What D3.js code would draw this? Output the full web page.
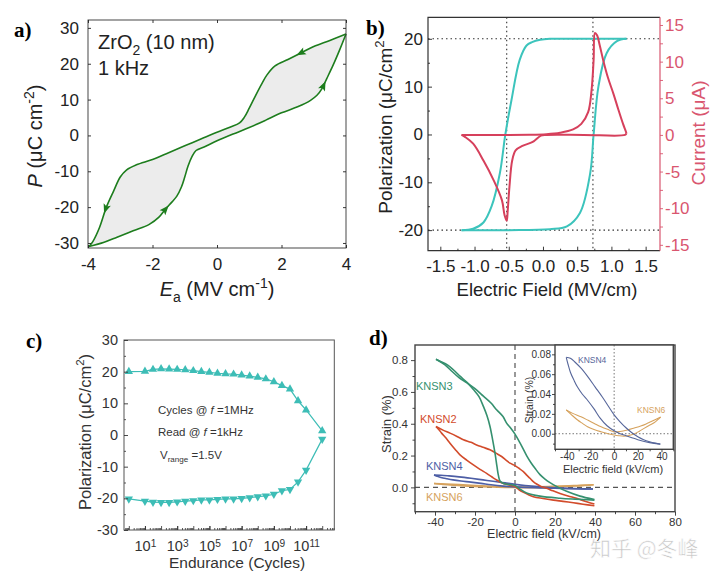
<!DOCTYPE html>
<html lang="en">
<head>
<meta charset="UTF-8">
<title>ferroelectric loops</title>
<script src="https://d3js.org/d3.v7.min.js"></script>
<style>
  body { margin: 0; background: #fff; }
  svg { display: block; }
  .panel-label { font-family: "Liberation Serif", "Times New Roman", serif; font-weight: bold; font-size: 21px; }
</style>
</head>
<body>
<script>
// ---------- a) ZrO2 P-E loop ----------
const aFieldTicks = [-4, -2, 0, 2, 4];
const aPolTicks = [-30, -20, -10, 0, 10, 20, 30];
// branch swept from +4 down to -4 [E, P]
const aBranchDown = [[4.0, 28.3], [3.5, 26.5], [3.0, 24.8], [2.6, 23.0], [2.2, 21.2], [1.8, 19.4], [1.55, 16.9],
  [1.4, 14.6], [1.2, 11.2], [1.0, 7.6], [0.85, 5.1], [0.7, 3.5], [0.4, 2.3], [0, 0.9], [-0.5, -1.0], [-1.0, -2.9],
  [-1.5, -4.8], [-2.0, -6.7], [-2.5, -8.2], [-2.8, -9.6], [-3.0, -11.6], [-3.2, -15.4], [-3.43, -20.0],
  [-3.64, -25.6], [-3.85, -29.6], [-3.97, -31.0]];
// branch swept from -4 up to +4
const aBranchUp = [[-3.97, -31.0], [-3.5, -29.8], [-3.1, -28.4], [-2.6, -26.6], [-2.1, -24.8], [-1.8, -22.8],
  [-1.6, -20.6], [-1.4, -18.6], [-1.25, -17.0], [-1.1, -14.3], [-1.0, -11.6], [-0.9, -8.6], [-0.78, -6.0],
  [-0.65, -4.2], [-0.4, -3.2], [0, -1.5], [0.5, 0.4], [1.0, 2.2], [1.5, 4.2], [2.0, 6.3], [2.5, 8.0], [2.9, 9.8],
  [3.1, 11.2], [3.25, 13.0], [3.4, 15.8], [3.6, 19.6], [3.8, 23.8], [4.0, 28.3]];
const aArrowsDown = [2.6, -3.45];
const aArrowsUp = [-1.6, 3.3];

// ---------- b) P-E and I-E loops ----------
const bFieldTicks = [-1.5, -1.0, -0.5, 0, 0.5, 1.0, 1.5];
const bPolTicks = [-20, -10, 0, 10, 20];
const bCurTicks = [-15, -10, -5, 0, 5, 10, 15];
const bPolDown = [[1.22, 20.0], [0.6, 20.0], [0.1, 20.0], [-0.04, 19.8], [-0.16, 19.3], [-0.24, 18.6], [-0.34, 15.6],
  [-0.46, 7.2], [-0.55, 0], [-0.63, -8.1], [-0.75, -15.0], [-0.87, -18.4], [-1.02, -19.7], [-1.19, -20.0]];
const bPolUp = [[-1.19, -20.0], [-0.5, -20.0], [0.1, -19.8], [0.35, -19.2], [0.54, -16.4], [0.69, -8.1],
  [0.74, 0], [0.81, 10.0], [0.93, 17.0], [1.08, 19.5], [1.22, 20.0]];
const bCurUp = [[-1.19, 0], [-0.6, 0], [-0.2, 0.02], [0.05, 0.1], [0.25, 0.3], [0.44, 0.75], [0.56, 1.5],
  [0.66, 3.1], [0.71, 6.1], [0.74, 10.2], [0.76, 13.9], [0.79, 13.6], [0.83, 12.2], [0.88, 10.2], [0.95, 7.8],
  [1.03, 5.6], [1.1, 3.5], [1.17, 1.5], [1.21, 0.5], [1.22, 0.2]];
const bCurDown = [[1.22, 0.2], [1.2, 0], [0.6, 0], [0.05, 0], [-0.03, -0.1], [-0.15, -0.96], [-0.3, -1.5],
  [-0.4, -2.1], [-0.45, -3.5], [-0.49, -7.1], [-0.515, -10.3], [-0.53, -11.7], [-0.56, -11.0], [-0.6, -8.9],
  [-0.72, -6.2], [-0.87, -3.5], [-1.02, -1.2], [-1.14, -0.27], [-1.19, 0]];
const bCoerciveField = [-0.53, 0.73];
const bSatPol = [20, -20];

// ---------- c) endurance ----------
const cCycleExp = [0, 1, 1.5, 2, 2.5, 3, 3.5, 4, 4.5, 5, 5.5, 6, 6.5, 7, 7.5, 8, 8.5, 9, 9.5, 10, 10.5, 11, 12];
const cPolPos = [20.0, 20.1, 20.7, 20.9, 20.8, 20.7, 20.6, 20.3, 20.0, 19.8, 19.5, 19.3, 19.2, 18.9, 18.6, 18.2,
  17.7, 16.8, 15.6, 14.5, 10.8, 7.9, 1.3];
const cPolNeg = [-20.2, -20.9, -21.2, -21.3, -21.3, -21.1, -20.9, -20.7, -20.5, -20.5, -20.3, -20.2, -20.2, -20.0,
  -19.8, -19.5, -19.2, -18.7, -17.6, -17.2, -14.8, -11.1, -1.3];
const cDecadeLabels = [1, 3, 5, 7, 9, 11];
const cPolTicks = [-30, -20, -10, 0, 10, 20, 30];

// ---------- d) strain loops ----------
const dFieldTicks = [-40, -20, 0, 20, 40, 60, 80];
const dStrainTicks = [0, 0.2, 0.4, 0.6, 0.8];
const insetFieldTicks = [-40, -20, 0, 20, 40];
const insetStrainTicks = [0, 0.02, 0.04, 0.06, 0.08];
const knsn3Outer = [[-39.5, 0.805], [-35, 0.77], [-32.5, 0.741], [-28, 0.69], [-24, 0.657], [-20, 0.62],
  [-15.8, 0.573], [-12, 0.53], [-9.2, 0.488], [-6, 0.445], [-4.2, 0.404], [-2, 0.37], [0, 0.335], [2.5, 0.28],
  [5.8, 0.2], [8, 0.155], [10, 0.12], [12.5, 0.08], [15, 0.052], [17.5, 0.03], [20.5, 0.008], [25.8, -0.025],
  [32.5, -0.055], [39.7, -0.077]];
const knsn3Inner = [[-39.5, 0.805], [-37, 0.79], [-34.2, 0.773], [-30, 0.73], [-27.5, 0.699], [-24, 0.66],
  [-20.8, 0.615], [-18, 0.57], [-15.8, 0.509], [-14, 0.45], [-12.5, 0.383], [-11.2, 0.3], [-10, 0.215],
  [-9, 0.13], [-8.3, 0.075], [-7.5, 0.04], [-6, 0.026], [-4, 0.02], [0, 0.012], [2, -0.006], [5.8, -0.035],
  [12.5, -0.055], [22.5, -0.068], [30, -0.074], [39.7, -0.08]];
const knsn2Outer = [[-39.5, 0.383], [-36, 0.36], [-32.5, 0.341], [-29, 0.32], [-25.8, 0.299], [-22, 0.283],
  [-19.2, 0.267], [-16, 0.252], [-12.5, 0.236], [-9.5, 0.215], [-6.7, 0.194], [-4.5, 0.172], [-2.5, 0.152],
  [0, 0.137], [2, 0.12], [4.2, 0.099], [6, 0.075], [7.5, 0.057], [9, 0.038], [10.8, 0.021], [13, 0.006],
  [15.8, -0.006], [19, -0.022], [22.5, -0.038], [26.5, -0.054], [30.8, -0.069], [35, -0.087], [39.7, -0.105]];
const knsn2Inner = [[-39.5, 0.383], [-38, 0.362], [-36.7, 0.341], [-34.5, 0.31], [-32.5, 0.278], [-30, 0.24],
  [-27.5, 0.204], [-24, 0.17], [-20.8, 0.141], [-17.5, 0.113], [-14.2, 0.088], [-11.5, 0.065], [-9.2, 0.046],
  [-7.5, 0.034], [-5.8, 0.025], [-3, 0.015], [0, 0.005], [2, -0.015], [4, -0.03], [9.2, -0.059], [14, -0.07],
  [19.2, -0.08], [24, -0.088], [29.2, -0.097], [34, -0.106], [39.7, -0.116]];
const knsn4Outer = [[-40.5, 0.077], [-37, 0.076], [-33, 0.072], [-28, 0.066], [-22, 0.057], [-16, 0.047],
  [-10, 0.037], [-5, 0.028], [0, 0.019], [5, 0.012], [10, 0.006], [15, 0.001], [20, -0.003], [25, -0.006],
  [30, -0.008], [35, -0.0095], [39, -0.0105]];
const knsn4Inner = [[-40.5, 0.077], [-39, 0.07], [-37, 0.062], [-34, 0.054], [-31, 0.047], [-27, 0.04],
  [-22, 0.033], [-17, 0.025], [-12, 0.016], [-6, 0.008], [0, 0.003], [5, 0.0], [10, -0.002], [15, -0.004],
  [20, -0.006], [30, -0.009], [39, -0.0105]];
const knsn6Upper = [[-40.5, 0.024], [-35, 0.0205], [-28, 0.017], [-22, 0.0135], [-16.8, 0.0104], [-11, 0.007],
  [-5.6, 0.0044], [0, 0.002], [5, 0.0022], [11.2, 0.0037], [17, 0.0057], [22.5, 0.0077], [27, 0.0098],
  [30.9, 0.012], [35, 0.0143], [39.3, 0.0168]];
const knsn6Lower = [[-40.5, 0.024], [-36, 0.019], [-30.9, 0.0138], [-26.5, 0.0102], [-22.5, 0.007], [-17, 0.0042],
  [-11.2, 0.002], [-5, 0.0], [0, -0.0013], [4, -0.002], [8.4, -0.0024], [12.5, -0.0018], [16.8, -0.0003],
  [21, 0.0023], [25.3, 0.0054], [29.5, 0.0083], [33.7, 0.011], [37, 0.0143], [39.3, 0.0168]];

const W = 720, H = 577;
const SANS = '"Liberation Sans", Arial, Helvetica, sans-serif';

const svg = d3.select('body').append('svg')
  .attr('width', W).attr('height', H)
  .attr('viewBox', [0, 0, W, H])
  .attr('font-family', SANS);

function addAxis(g, axis, at, size, color) {
  const sel = g.append('g').attr('transform', at).call(axis);
  sel.attr('font-family', SANS).attr('font-size', size);
  sel.select('.domain').remove();
  sel.selectAll('.tick line').attr('stroke', color).attr('stroke-width', 0.9);
  sel.selectAll('.tick text').attr('fill', color);
  return sel;
}

// text with italic / sub / sup pieces
function richText(parent, parts, size) {
  const text = parent.append('text').attr('font-size', size);
  let shift = 0;
  parts.forEach(p => {
    const target = p.sub ? size * 0.3 : p.sup ? -size * 0.4 : 0;
    const ts = text.append('tspan').text(p.t).attr('dy', target - shift);
    if (p.sub || p.sup) ts.attr('font-size', size * 0.7);
    if (p.italic) ts.attr('font-style', 'italic');
    shift = target;
  });
  return text;
}

function frame(g, box, color, width) {
  g.append('rect')
    .attr('x', box.x0).attr('y', box.y0)
    .attr('width', box.x1 - box.x0).attr('height', box.y1 - box.y0)
    .attr('fill', 'none').attr('stroke', color).attr('stroke-width', width);
}

function pointAtX(node, px) {
  const total = node.getTotalLength();
  const rising = node.getPointAtLength(total).x > node.getPointAtLength(0).x;
  let lo = 0, hi = total;
  for (let i = 0; i < 40; i++) {
    const mid = (lo + hi) / 2;
    if ((node.getPointAtLength(mid).x < px) === rising) lo = mid; else hi = mid;
  }
  const a = node.getPointAtLength(lo), b = node.getPointAtLength(Math.min(total, lo + 2));
  return { x: a.x, y: a.y, angle: Math.atan2(b.y - a.y, b.x - a.x) * 180 / Math.PI };
}

const smooth = d3.curveCatmullRom.alpha(0.5);

// ================= panel a =================
{
  const box = { x0: 88, x1: 346, y0: 20, y1: 248 };
  const x = d3.scaleLinear([-4, 4], [box.x0, box.x1]);
  const y = d3.scaleLinear([-31.4, 32.2], [box.y1, box.y0]);
  const g = svg.append('g');
  const line = d3.line().x(d => x(d[0])).y(d => y(d[1])).curve(smooth);
  const green = '#1d7d1d';

  g.append('path')
    .attr('d', line(aBranchDown) + line(aBranchUp).replace('M', 'L') + 'Z')
    .attr('fill', '#ececec');

  const down = g.append('path').attr('d', line(aBranchDown))
    .attr('fill', 'none').attr('stroke', green).attr('stroke-width', 1.6);
  const up = g.append('path').attr('d', line(aBranchUp))
    .attr('fill', 'none').attr('stroke', green).attr('stroke-width', 1.6);

  const arrows = aArrowsDown.map(v => pointAtX(down.node(), x(v)))
    .concat(aArrowsUp.map(v => pointAtX(up.node(), x(v))));
  g.selectAll('.arrow').data(arrows).join('path')
    .attr('d', 'M5,0 L-4.5,-3.8 L-2.5,0 L-4.5,3.8 Z')
    .attr('fill', green)
    .attr('transform', d => `translate(${d.x},${d.y}) rotate(${d.angle})`);

  frame(g, box, '#333', 0.9);
  const fmt = d => String(d);
  addAxis(g, d3.axisBottom(x).tickValues(aFieldTicks).tickSize(-3).tickPadding(10).tickFormat(fmt),
    `translate(0,${box.y1})`, 17, '#222');
  addAxis(g, d3.axisTop(x).tickValues(aFieldTicks).tickSize(-3).tickFormat(''),
    `translate(0,${box.y0})`, 17, '#222');
  addAxis(g, d3.axisLeft(y).tickValues(aPolTicks).tickSize(-3).tickPadding(9).tickFormat(fmt),
    `translate(${box.x0},0)`, 17, '#222');
  addAxis(g, d3.axisRight(y).tickValues(aPolTicks).tickSize(-3).tickFormat(''),
    `translate(${box.x1},0)`, 17, '#222');

  richText(g, [{ t: 'ZrO' }, { t: '2', sub: true }, { t: ' (10 nm)' }], 20)
    .attr('x', 98).attr('y', 49).attr('fill', '#222');
  g.append('text').attr('x', 98).attr('y', 75).attr('font-size', 20).attr('fill', '#222').text('1 kHz');

  richText(g, [{ t: 'P', italic: true }, { t: ' (μC cm' }, { t: '-2', sup: true }, { t: ')' }], 20)
    .attr('text-anchor', 'middle').attr('fill', '#222')
    .attr('transform', 'translate(42,136) rotate(-90)');
  richText(g, [{ t: 'E', italic: true }, { t: 'a', sub: true }, { t: ' (MV cm' }, { t: '-1', sup: true }, { t: ')' }], 20)
    .attr('text-anchor', 'middle').attr('fill', '#222')
    .attr('x', 217).attr('y', 296);

  g.append('text').attr('class', 'panel-label').attr('x', 14).attr('y', 37).text('a)');
}

// ================= panel b =================
{
  const box = { x0: 428, x1: 660, y0: 17.3, y1: 250.7 };
  const x = d3.scaleLinear([-1.68, 1.71], [box.x0, box.x1]);
  const y = d3.scaleLinear([-24.3, 24.5], [box.y1, box.y0]);
  const y2 = d3.scaleLinear([-15.8, 16.05], [box.y1, box.y0]);
  const g = svg.append('g');
  const cyan = '#3cc4bc', red = '#d6405c', axisRed = '#d9566f';

  g.selectAll('.vdot').data(bCoerciveField).join('line')
    .attr('x1', d => x(d)).attr('x2', d => x(d)).attr('y1', box.y0).attr('y2', box.y1)
    .attr('stroke', '#333').attr('stroke-width', 1.1).attr('stroke-dasharray', '1.5,3');
  g.selectAll('.hdot').data(bSatPol).join('line')
    .attr('x1', box.x0).attr('x2', box.x1).attr('y1', d => y(d)).attr('y2', d => y(d))
    .attr('stroke', '#333').attr('stroke-width', 1.1).attr('stroke-dasharray', '1.5,3');

  const pLine = d3.line().x(d => x(d[0])).y(d => y(d[1])).curve(smooth);
  const iLine = d3.line().x(d => x(d[0])).y(d => y2(d[1])).curve(smooth);
  [bPolDown, bPolUp].forEach(s => g.append('path').attr('d', pLine(s))
    .attr('fill', 'none').attr('stroke', cyan).attr('stroke-width', 2));
  [bCurUp, bCurDown].forEach(s => g.append('path').attr('d', iLine(s))
    .attr('fill', 'none').attr('stroke', red).attr('stroke-width', 2).attr('stroke-linejoin', 'round'));

  g.append('path')
    .attr('d', `M${box.x1},${box.y0} H${box.x0} V${box.y1} H${box.x1}`)
    .attr('fill', 'none').attr('stroke', '#333').attr('stroke-width', 1.2);
  g.append('line').attr('x1', box.x1).attr('x2', box.x1).attr('y1', box.y0).attr('y2', box.y1)
    .attr('stroke', axisRed).attr('stroke-width', 1.2);

  addAxis(g, d3.axisBottom(x).tickValues(bFieldTicks).tickSize(-4).tickPadding(9.5).tickFormat(d => d.toFixed(1)),
    `translate(0,${box.y1})`, 17, '#222');
  addAxis(g, d3.axisBottom(x).tickValues([-1.25, -0.75, -0.25, 0.25, 0.75, 1.25]).tickSize(-2).tickFormat(''),
    `translate(0,${box.y1})`, 17, '#222');
  addAxis(g, d3.axisLeft(y).tickValues(bPolTicks).tickSize(-4).tickPadding(5).tickFormat(d => String(d)),
    `translate(${box.x0},0)`, 17, '#222');
  addAxis(g, d3.axisLeft(y).tickValues([-15, -5, 5, 15]).tickSize(-2).tickFormat(''),
    `translate(${box.x0},0)`, 17, '#222');
  addAxis(g, d3.axisRight(y2).tickValues(bCurTicks).tickSize(3).tickPadding(2).tickFormat(d => String(d)),
    `translate(${box.x1},0)`, 17, axisRed);
  addAxis(g, d3.axisRight(y2).tickValues([-12.5, -7.5, -2.5, 2.5, 7.5, 12.5]).tickSize(3).tickFormat(''),
    `translate(${box.x1},0)`, 17, axisRed);

  richText(g, [{ t: 'Polarization (μC/cm' }, { t: '2', sup: true }], 19)
    .attr('text-anchor', 'middle').attr('fill', '#222')
    .attr('transform', 'translate(392,127) rotate(-90)');
  g.append('text').attr('text-anchor', 'middle').attr('font-size', 19).attr('fill', axisRed)
    .attr('transform', 'translate(705,133) rotate(-90)').text('Current (μA)');
  g.append('text').attr('text-anchor', 'middle').attr('font-size', 18.5).attr('fill', '#222')
    .attr('x', 547).attr('y', 296).text('Electric Field (MV/cm)');

  g.append('text').attr('class', 'panel-label').attr('x', 366).attr('y', 35).text('b)');
}

// ================= panel c =================
{
  const box = { x0: 124, x1: 334.3, y0: 340, y1: 530 };
  const x = d3.scaleLog([10 ** -0.3, 10 ** 12.75], [box.x0, box.x1]);
  const y = d3.scaleLinear([-30, 30], [box.y1, box.y0]);
  const g = svg.append('g');
  const cyan = '#3dbdb6';
  const px = e => x(10 ** e);

  const line = d3.line().x((e, i) => px(e));
  g.append('path').attr('d', line.y((e, i) => y(cPolPos[i]))(cCycleExp))
    .attr('fill', 'none').attr('stroke', cyan).attr('stroke-width', 1.2);
  g.append('path').attr('d', line.y((e, i) => y(cPolNeg[i]))(cCycleExp))
    .attr('fill', 'none').attr('stroke', cyan).attr('stroke-width', 1.2);

  const tri = d3.symbol(d3.symbolTriangle, 30);
  g.selectAll('.up').data(cCycleExp).join('path')
    .attr('d', tri).attr('fill', cyan)
    .attr('transform', (e, i) => `translate(${px(e)},${y(cPolPos[i])})`);
  g.selectAll('.dn').data(cCycleExp).join('path')
    .attr('d', tri).attr('fill', cyan)
    .attr('transform', (e, i) => `translate(${px(e)},${y(cPolNeg[i])}) rotate(180)`);

  frame(g, box, '#555', 1);

  const decades = d3.range(0, 13).map(e => 10 ** e);
  const minors = d3.range(-1, 13).flatMap(k => d3.range(2, 10).map(m => m * 10 ** k))
    .filter(v => v > x.domain()[0] && v < x.domain()[1]);
  addAxis(g, d3.axisBottom(x).tickValues(minors).tickSize(-2).tickFormat(''),
    `translate(0,${box.y1})`, 14.5, '#444');
  addAxis(g, d3.axisBottom(x).tickValues(decades).tickSize(-4).tickFormat(''),
    `translate(0,${box.y1})`, 14.5, '#444');
  const xl = addAxis(g, d3.axisBottom(x).tickValues(cDecadeLabels.map(e => 10 ** e)).tickSize(-4).tickPadding(11),
    `translate(0,${box.y1})`, 14.5, '#333');
  xl.selectAll('.tick text').each(function (d) {
    const t = d3.select(this).text(null);
    t.append('tspan').text('10');
    t.append('tspan').attr('dy', '-0.45em').attr('font-size', '0.7em').text(Math.round(Math.log10(d)));
  });
  addAxis(g, d3.axisLeft(y).tickValues(cPolTicks).tickSize(-4).tickPadding(6).tickFormat(d => String(d)),
    `translate(${box.x0},0)`, 14.5, '#333');
  addAxis(g, d3.axisLeft(y).tickValues([-25, -15, -5, 5, 15, 25]).tickSize(-2).tickFormat(''),
    `translate(${box.x0},0)`, 14.5, '#444');

  richText(g, [{ t: 'Cycles @ ' }, { t: 'f', italic: true }, { t: ' =1MHz' }], 11.5)
    .attr('x', 158).attr('y', 414).attr('fill', '#333');
  richText(g, [{ t: 'Read @ ' }, { t: 'f', italic: true }, { t: ' =1kHz' }], 11.5)
    .attr('x', 158).attr('y', 436).attr('fill', '#333');
  richText(g, [{ t: 'V' }, { t: 'range', sub: true }, { t: ' =1.5V' }], 11.5)
    .attr('x', 160).attr('y', 459).attr('fill', '#333');

  richText(g, [{ t: 'Polarization (μC/cm' }, { t: '2', sup: true }, { t: ')' }], 16.5)
    .attr('text-anchor', 'middle').attr('fill', '#333')
    .attr('transform', 'translate(91,432) rotate(-90)');
  g.append('text').attr('text-anchor', 'middle').attr('font-size', 15.5).attr('fill', '#333')
    .attr('x', 237).attr('y', 568).text('Endurance (Cycles)');

  g.append('text').attr('class', 'panel-label').attr('x', 26).attr('y', 348).text('c)');
}

// ================= panel d =================
{
  const box = { x0: 415, x1: 675, y0: 345, y1: 511.7 };
  const x = d3.scaleLinear([-50, 80], [box.x0, box.x1]);
  const y = d3.scaleLinear([-0.153, 0.895], [box.y1, box.y0]);
  const g = svg.append('g');
  const col = { k3: '#35906f', k2: '#d24b2b', k4: '#4d5ea5', k6: '#d6a25d' };

  g.append('line').attr('x1', box.x0).attr('x2', box.x1).attr('y1', y(0)).attr('y2', y(0))
    .attr('stroke', '#555').attr('stroke-width', 1.2).attr('stroke-dasharray', '5,4');
  g.append('line').attr('x1', x(0)).attr('x2', x(0)).attr('y1', box.y0).attr('y2', box.y1)
    .attr('stroke', '#555').attr('stroke-width', 1.2).attr('stroke-dasharray', '5,4');

  const line = d3.line().x(d => x(d[0])).y(d => y(d[1])).curve(smooth);
  const mainSeries = [
    [knsn6Upper, col.k6], [knsn6Lower, col.k6],
    [knsn4Outer, col.k4], [knsn4Inner, col.k4],
    [knsn2Outer, col.k2], [knsn2Inner, col.k2],
    [knsn3Outer, col.k3], [knsn3Inner, col.k3]
  ];
  mainSeries.forEach(([s, c]) => g.append('path').attr('d', line(s))
    .attr('fill', 'none').attr('stroke', c).attr('stroke-width', 1.6));

  frame(g, box, '#444', 1.4);
  addAxis(g, d3.axisBottom(x).tickValues(dFieldTicks).tickSize(4).tickPadding(2).tickFormat(d => String(d)),
    `translate(0,${box.y1})`, 11.5, '#333');
  addAxis(g, d3.axisBottom(x).tickValues([-50, -30, -10, 10, 30, 50, 70]).tickSize(2.5).tickFormat(''),
    `translate(0,${box.y1})`, 11.5, '#333');
  addAxis(g, d3.axisLeft(y).tickValues(dStrainTicks).tickSize(4).tickPadding(3).tickFormat(d => d.toFixed(1)),
    `translate(${box.x0},0)`, 11.5, '#333');
  addAxis(g, d3.axisLeft(y).tickValues([-0.1, 0.1, 0.3, 0.5, 0.7]).tickSize(2.5).tickFormat(''),
    `translate(${box.x0},0)`, 11.5, '#333');

  g.append('text').attr('text-anchor', 'middle').attr('font-size', 13).attr('fill', '#333')
    .attr('transform', 'translate(391,424) rotate(-90)').text('Strain (%)');
  g.append('text').attr('text-anchor', 'middle').attr('font-size', 12.5).attr('fill', '#333')
    .attr('x', 544).attr('y', 538).text('Electric field (kV/cm)');

  const labels = [['KNSN3', col.k3, 416, 390], ['KNSN2', col.k2, 420, 423],
    ['KNSN4', col.k4, 426, 469.5], ['KNSN6', col.k6, 426, 500.5]];
  g.selectAll('.lbl').data(labels).join('text')
    .attr('x', d => d[2]).attr('y', d => d[3]).attr('fill', d => d[1]).attr('font-size', 11).text(d => d[0]);

  // inset
  const ib = { x0: 555, x1: 673.3, y0: 345, y1: 449.3 };
  const ix = d3.scaleLinear([-50, 50], [ib.x0, ib.x1]);
  const iy = d3.scaleLinear([-0.0157, 0.0894], [ib.y1, ib.y0]);
  const ig = svg.append('g');
  ig.append('rect').attr('x', ib.x0).attr('y', ib.y0)
    .attr('width', ib.x1 - ib.x0).attr('height', ib.y1 - ib.y0).attr('fill', '#fff');
  ig.append('line').attr('x1', ib.x0).attr('x2', ib.x1).attr('y1', iy(0)).attr('y2', iy(0))
    .attr('stroke', '#777').attr('stroke-dasharray', '1.5,2');
  ig.append('line').attr('x1', ix(0)).attr('x2', ix(0)).attr('y1', ib.y0).attr('y2', ib.y1)
    .attr('stroke', '#777').attr('stroke-dasharray', '1.5,2');
  const iline = d3.line().x(d => ix(d[0])).y(d => iy(d[1])).curve(smooth);
  [[knsn6Upper, col.k6], [knsn6Lower, col.k6], [knsn4Outer, '#56669a'], [knsn4Inner, '#56669a']]
    .forEach(([s, c]) => ig.append('path').attr('d', iline(s))
      .attr('fill', 'none').attr('stroke', c).attr('stroke-width', 1.1));
  frame(ig, ib, '#444', 1.4);
  addAxis(ig, d3.axisBottom(ix).tickValues(insetFieldTicks).tickSize(3).tickPadding(1).tickFormat(d => String(d)),
    `translate(0,${ib.y1})`, 10, '#333');
  addAxis(ig, d3.axisBottom(ix).tickValues([-50, -30, -10, 10, 30, 50]).tickSize(2).tickFormat(''),
    `translate(0,${ib.y1})`, 10, '#333');
  addAxis(ig, d3.axisLeft(iy).tickValues(insetStrainTicks).tickSize(3).tickPadding(1).tickFormat(d => d.toFixed(2)),
    `translate(${ib.x0},0)`, 10, '#333');
  addAxis(ig, d3.axisLeft(iy).tickValues([-0.01, 0.01, 0.03, 0.05, 0.07]).tickSize(2).tickFormat(''),
    `translate(${ib.x0},0)`, 10, '#333');
  ig.append('text').attr('text-anchor', 'middle').attr('font-size', 10.5).attr('fill', '#333')
    .attr('transform', 'translate(533,400) rotate(-90)').text('Strain (%)');
  ig.append('text').attr('text-anchor', 'middle').attr('font-size', 11).attr('fill', '#333')
    .attr('x', 613).attr('y', 473).text('Electric field (kV/cm)');
  ig.append('text').attr('x', 578).attr('y', 363).attr('font-size', 8.5).attr('fill', '#56669a').text('KNSN4');
  ig.append('text').attr('x', 637).attr('y', 413).attr('font-size', 8.5).attr('fill', col.k6).text('KNSN6');

  svg.append('text').attr('class', 'panel-label').attr('x', 369).attr('y', 345).text('d)');
}

// watermark
svg.append('text')
  .attr('x', 590).attr('y', 556)
  .attr('font-family', '"Noto Sans CJK SC", sans-serif')
  .attr('font-size', 21).attr('fill', '#c4c4c4')
  .attr('stroke', '#fff').attr('stroke-width', 0.6)
  .text('知乎 @冬峰');
</script>
</body>
</html>
